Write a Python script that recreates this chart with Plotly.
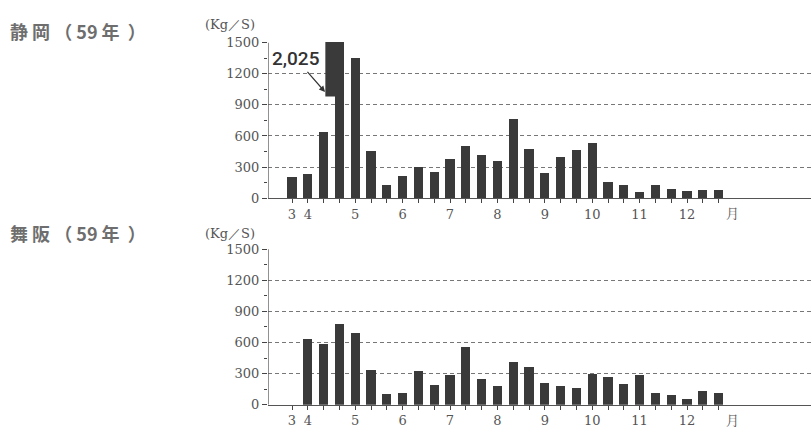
import plotly.graph_objects as go

# Ten-day periods from late March to late December
periods = list(range(28))
shizuoka = [200, 230, 640, 2025, 1350, 450, 130, 210, 300, 250, 380, 500, 420, 360,
            760, 470, 240, 400, 460, 530, 150, 130, 60, 130, 90, 70, 80, 80]
maisaka = [None, 640, 590, 780, 700, 340, 110, 120, 330, 190, 290, 560, 250, 185,
           420, 370, 210, 185, 160, 300, 270, 200, 290, 120, 95, 60, 140, 120]
month_pos = [0, 1, 4, 7, 10, 13, 16, 19, 22, 25]
month_labels = ["3", "4", "5", "6", "7", "8", "9", "10", "11", "12"]
y_ticks = [0, 300, 600, 900, 1200, 1500]
peak_label = "2,025"

W, H = 811, 432
BAR_W = 0.58
BAR_COLOR = "#3a3a3a"
TXT = "#555555"
SERIF = "DejaVu Serif, Liberation Serif, serif"
Y_TOP = 1500
Y_PAD = 6            # headroom so the top gridline is drawn
PX_PER_UNIT = 161 / 1500


def px(x):
    return x / W


def py(y):
    return 1 - y / H


ticktext = [month_labels[month_pos.index(i)] if i in month_pos else "" for i in periods]

fig = go.Figure()
fig.add_trace(go.Bar(x=periods, y=shizuoka, width=BAR_W, marker=dict(color=BAR_COLOR, line=dict(width=0)),
                     xaxis="x", yaxis="y", showlegend=False))
fig.add_trace(go.Bar(x=periods, y=maisaka, width=BAR_W, marker=dict(color=BAR_COLOR, line=dict(width=0)),
                     xaxis="x2", yaxis="y2", showlegend=False))

x_range = [(268 - 292) / 15.8, (811 - 292) / 15.8]


def xaxis_cfg(anchor):
    return dict(domain=[px(268), 1], range=x_range, anchor=anchor,
                tickmode="array", tickvals=periods, ticktext=ticktext,
                ticks="outside", ticklen=4, tickcolor="#444", tickwidth=1,
                tickfont=dict(family=SERIF, size=13, color=TXT),
                showline=True, linecolor="#555", linewidth=1.3,
                showgrid=False, zeroline=False, fixedrange=True)


def yaxis_cfg(base_px, anchor):
    top_px = base_px - (Y_TOP + Y_PAD) * PX_PER_UNIT
    return dict(domain=[py(base_px), py(top_px)], range=[0, Y_TOP + Y_PAD], anchor=anchor,
                tickmode="array", tickvals=y_ticks,
                ticks="outside", ticklen=5, tickcolor="#444",
                minor=dict(dtick=150, tick0=0, ticks="outside", ticklen=3, tickcolor="#444"),
                tickfont=dict(family=SERIF, size=13, color=TXT),
                showline=False,
                showgrid=True, gridcolor="#777", gridwidth=1, griddash="4px,3px",
                zeroline=False, fixedrange=True)


fig.update_layout(
    width=W, height=H,
    margin=dict(l=0, r=0, t=0, b=0),
    paper_bgcolor="white", plot_bgcolor="rgba(0,0,0,0)",
    bargap=0,
    xaxis=xaxis_cfg("y"),
    yaxis=yaxis_cfg(198, "x"),
    xaxis2=xaxis_cfg("y2"),
    yaxis2=yaxis_cfg(412, "x2"),
)

# Vertical axis lines from 0 to the top tick
for xr, yr in [("x", "y"), ("x2", "y2")]:
    fig.add_shape(type="line", xref=xr, yref=yr, x0=x_range[0], x1=x_range[0], y0=0, y1=Y_TOP,
                  line=dict(color="#555", width=1.3))

# Broken-bar marker for the off-scale peak
peak = shizuoka.index(max(shizuoka))
fig.add_shape(type="rect", xref="x", yref="y",
              x0=peak - 0.89, x1=peak + BAR_W / 2, y0=980, y1=Y_TOP + Y_PAD,
              fillcolor=BAR_COLOR, line=dict(width=0), layer="above")
fig.add_annotation(x=peak - 0.91, y=1025, xref="x", yref="y", text=peak_label,
                   showarrow=True, ax=-29, ay=-33, arrowhead=2, arrowsize=1, arrowwidth=1.2,
                   arrowcolor="#333",
                   font=dict(family="Roboto, sans-serif", size=19, color="#333", weight=500))

# Panel titles and unit labels
for title, ty in [("静 岡 （ 59 年&nbsp;&nbsp;）", 25), ("舞 阪 （ 59 年&nbsp;&nbsp;）", 234)]:
    fig.add_annotation(x=px(8), y=py(ty), xref="paper", yref="paper", xanchor="left", yanchor="middle",
                       text=title, showarrow=False,
                       font=dict(family="Noto Sans CJK JP", size=18, color="#6e6e6e", weight=700))
for uy in [18, 235]:
    fig.add_annotation(x=px(230), y=py(uy), xref="paper", yref="paper", xanchor="center", yanchor="middle",
                       text="(Kg／S)", showarrow=False,
                       font=dict(family=SERIF, size=13, color=TXT))

# Month unit after the last period
for xr, yr in [("x", "y"), ("x2", "y2")]:
    fig.add_annotation(x=27.9, y=0, xref=xr, yref=yr, yanchor="top", yshift=-3,
                       text="月", showarrow=False,
                       font=dict(family="Noto Serif CJK JP, Noto Sans CJK JP", size=13, color=TXT))

fig.write_html("out.html")
